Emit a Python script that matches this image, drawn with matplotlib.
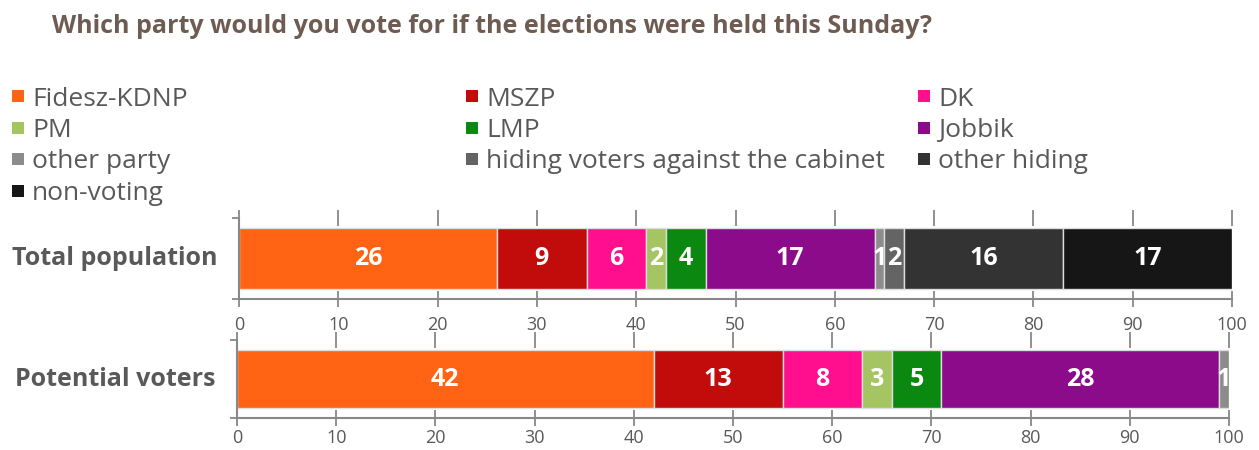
import matplotlib
matplotlib.use("Agg")
import matplotlib.pyplot as plt
from matplotlib.patches import Rectangle

title = "Which party would you vote for if the elections were held this Sunday?"
parties = ["Fidesz-KDNP", "MSZP", "DK", "PM", "LMP", "Jobbik", "other party",
           "hiding voters against the cabinet", "other hiding", "non-voting"]
colors = ["#FF6313", "#C20B0B", "#FF0E8E", "#A5C462", "#0B880F", "#8B0B8A",
          "#8C8C8C", "#646464", "#333333", "#161616"]
groups = ["Total population", "Potential voters"]
total_population = [26, 9, 6, 2, 4, 17, 1, 2, 16, 17]
potential_voters = [42, 13, 8, 3, 5, 28, 1, 0, 0, 0]
xticks = [0, 10, 20, 30, 40, 50, 60, 70, 80, 90, 100]

plt.rcParams['font.family'] = ['Open Sans', 'DejaVu Sans']
fig = plt.figure(figsize=(12.59, 4.5), dpi=100)
W, H = 1259, 450

txtc = "#595959"
fig.text(52 / W, 1 - 33 / H, title, fontsize=18, fontweight='bold', color="#6E5B52",
         va='baseline', ha='left')

# legend
colx = [12, 466, 918]
rowy = [96, 127.5, 159, 190.5]
for i, (lab, c) in enumerate(zip(parties, colors)):
    col = i % 3
    row = i // 3
    x0 = colx[col]
    y0 = rowy[row]
    fig.patches.append(Rectangle((x0 / W, 1 - (y0 + 6) / H), 12 / W, 12 / H,
                                 transform=fig.transFigure, facecolor=c, edgecolor='none'))
    fig.text((x0 + 20) / W, 1 - (y0 + 9.5) / H, lab, fontsize=19, color=txtc,
             va='baseline', ha='left')

axes_px = [(239, 1232, 218, 299), (237, 1229, 340, 418)]
pads = [6, 2]
data = [total_population, potential_voters]
bar_h = [0.765, 0.756]
for k, (l, r, t, b) in enumerate(axes_px):
    ax = fig.add_axes([l / W, 1 - b / H, (r - l) / W, (b - t) / H])
    vals = data[k]
    left = 0
    for v, c in zip(vals, colors):
        if v <= 0:
            continue
        ax.barh(0, v, left=left, height=bar_h[k], color=c, edgecolor='#DDDDDD', linewidth=1)
        ax.text(left + v / 2, 0, str(v), ha='center', va='center', color='white',
                fontsize=18, fontweight='bold')
        left += v
    ax.set_xlim(0, 100)
    ax.set_ylim(-0.5, 0.5)
    ax.set_xticks(xticks)
    ax.set_yticks([-0.5, 0.5])
    ax.set_yticklabels([])
    for s in ['top', 'right']:
        ax.spines[s].set_visible(False)
    for s in ['left', 'bottom']:
        ax.spines[s].set_color('#888888')
        ax.spines[s].set_linewidth(1.5)
    ax.tick_params(axis='x', direction='inout', length=12, width=1.3, color='#888888',
                   labelsize=13, labelcolor=txtc, top=True, pad=pads[k])
    ax.tick_params(axis='y', direction='out', length=5, width=1.3, color='#888888')
    ax.set_facecolor('none')
    ax.text(-0.022, 0.5, groups[k], transform=ax.transAxes, ha='right', va='center',
            fontsize=18, fontweight='bold', color=txtc)

fig.savefig("out.png", dpi=100, facecolor='white')
